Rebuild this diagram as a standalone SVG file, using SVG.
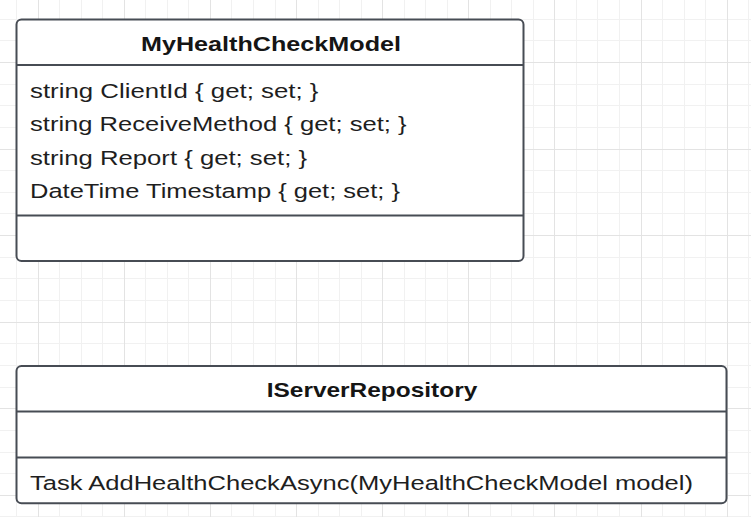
<svg xmlns="http://www.w3.org/2000/svg" width="751" height="517" viewBox="0 0 751 517">
  <style>
    .minor { stroke: #f1f1f1; stroke-width: 1; fill: none; }
    .major { stroke: #e3e3e3; stroke-width: 1; fill: none; }
    .box { fill: #ffffff; stroke: #474c54; stroke-width: 2; }
    .sep { stroke: #474c54; stroke-width: 2; fill: none; }
    .title { font-family: "Liberation Sans", Arial, sans-serif; font-size: 20.5px; font-weight: bold; fill: #151515; }
    .member { font-family: "Liberation Sans", Arial, sans-serif; font-size: 20.5px; fill: #1e1e1e; }
  </style>
  <rect x="0" y="0" width="751" height="517" fill="#ffffff"/>
  <g id="grid">
    <path class="minor" d="M16.5 0V517 M59.5 0V517 M81.5 0V517 M102.5 0V517 M145.5 0V517 M167.5 0V517 M188.5 0V517 M231.5 0V517 M253.5 0V517 M275.5 0V517 M318.5 0V517 M339.5 0V517 M361.5 0V517 M404.5 0V517 M425.5 0V517 M447.5 0V517 M490.5 0V517 M511.5 0V517 M533.5 0V517 M576.5 0V517 M597.5 0V517 M619.5 0V517 M662.5 0V517 M684.5 0V517 M705.5 0V517 M748.5 0V517 M0 19.5H751 M0 40.5H751 M0 84.5H751 M0 105.5H751 M0 127.5H751 M0 170.5H751 M0 192.5H751 M0 213.5H751 M0 257.5H751 M0 278.5H751 M0 300.5H751 M0 343.5H751 M0 365.5H751 M0 387.5H751 M0 430.5H751 M0 452.5H751 M0 473.5H751 M0 516.5H751"/>
    <path class="major" d="M38.5 0V517 M124.5 0V517 M210.5 0V517 M296.5 0V517 M382.5 0V517 M468.5 0V517 M554.5 0V517 M641.5 0V517 M727.5 0V517 M0 62.5H751 M0 149.5H751 M0 235.5H751 M0 322.5H751 M0 408.5H751 M0 495.5H751"/>
  </g>
  <g id="connectors"></g>
  <g id="MyHealthCheckModel">
    <rect class="box" x="16.5" y="19.5" width="507" height="241.5" rx="5" ry="5"/>
    <line class="sep" x1="16.5" y1="65" x2="523.5" y2="65"/>
    <line class="sep" x1="16.5" y1="215.5" x2="523.5" y2="215.5"/>
    <text class="title" x="141" y="51" textLength="260" lengthAdjust="spacingAndGlyphs">MyHealthCheckModel</text>
    <text class="member" x="30" y="97.5" textLength="288.5" lengthAdjust="spacingAndGlyphs">string ClientId { get; set; }</text>
    <text class="member" x="30" y="131" textLength="376.5" lengthAdjust="spacingAndGlyphs">string ReceiveMethod { get; set; }</text>
    <text class="member" x="30" y="164.5" textLength="277" lengthAdjust="spacingAndGlyphs">string Report { get; set; }</text>
    <text class="member" x="30" y="198" textLength="370" lengthAdjust="spacingAndGlyphs">DateTime Timestamp { get; set; }</text>
  </g>
  <g id="IServerRepository">
    <rect class="box" x="16.5" y="366" width="710" height="137.3" rx="5" ry="5"/>
    <line class="sep" x1="16.5" y1="411.5" x2="726.5" y2="411.5"/>
    <line class="sep" x1="16.5" y1="457.5" x2="726.5" y2="457.5"/>
    <text class="title" x="266.7" y="397" textLength="210.6" lengthAdjust="spacingAndGlyphs">IServerRepository</text>
    <text class="member" x="30" y="489.5" textLength="663" lengthAdjust="spacingAndGlyphs">Task AddHealthCheckAsync(MyHealthCheckModel model)</text>
  </g>
</svg>
